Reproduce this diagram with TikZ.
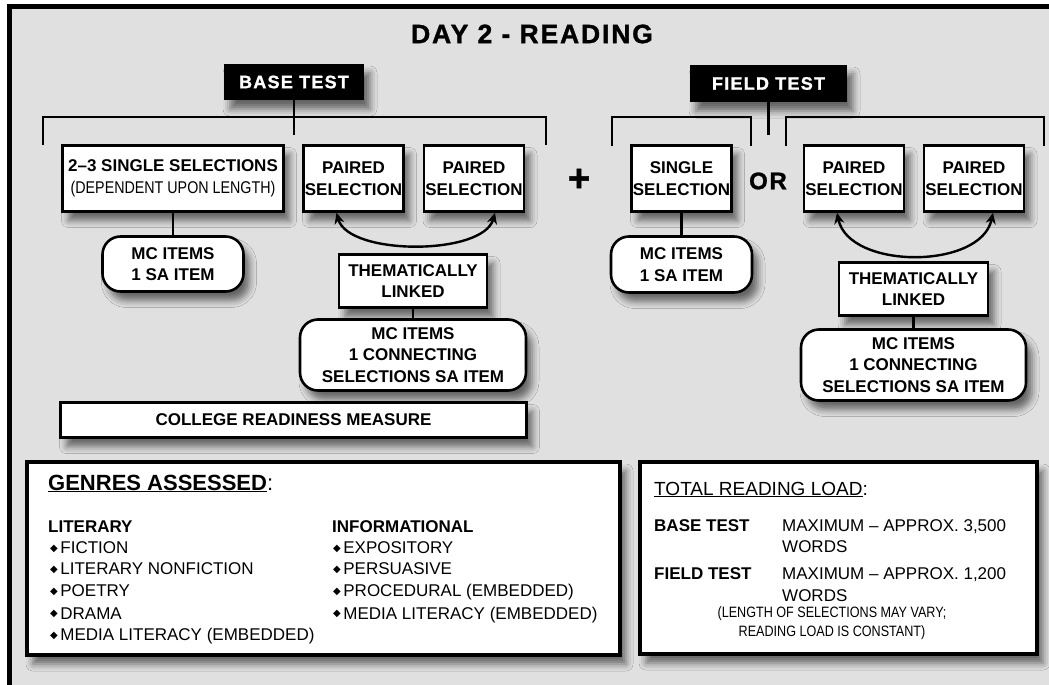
\documentclass[tikz,border=0pt]{standalone}
\usepackage{fontspec}
\setmainfont{Liberation Sans}
\newfontfamily\narrowfont[FakeStretch=0.84]{Liberation Sans}
\newfontfamily\heavyfont[FakeBold=1.3,LetterSpace=7]{Liberation Sans Bold}
\newfontfamily\symbfont{DejaVu Sans}
\usetikzlibrary{arrows.meta,shadows.blur}

\definecolor{bggray}{HTML}{E0E0E0}
\newcommand{\bul}{{\symbfont\fontsize{10}{10}\selectfont\raisebox{2.5pt}{◆}}\hspace{2.5pt}}

\tikzset{
  shade/.style={blur shadow={shadow xshift=6pt,shadow yshift=-9pt,shadow blur radius=7pt,shadow opacity=55}},
  selbox/.style={draw,line width=2.6pt,fill=white,shade,inner sep=0pt,align=center,
    font=\fontsize{17}{21.5}\selectfont\bfseries},
  itembox/.style={selbox,rounded corners=18pt},
  testbox/.style={fill=black,text=white,shade,inner sep=0pt,font=\heavyfont\fontsize{18}{20}\selectfont},
  bigbox/.style={draw,line width=3.5pt,fill=white,shade},
  brace/.style={line width=2.6pt},
  pairarrow/.style={line width=2.4pt,{Stealth[length=11pt,width=10pt]}-{Stealth[length=11pt,width=10pt]}},
  listitem/.style={anchor=base west,inner sep=0pt,font=\fontsize{17}{20}\selectfont},
  listbold/.style={listitem,font=\fontsize{17}{20}\selectfont\bfseries},
  note/.style={anchor=base,inner sep=0pt,font=\narrowfont\fontsize{15}{17}\selectfont},
}

\begin{document}
\begin{tikzpicture}[x=1pt,y=-1pt]
\useasboundingbox (0,0) rectangle (1049,685);

%% Background and frame
\fill[bggray] (9.5,6.5) rectangle (1049,685);
\draw[line width=5pt] (9.5,685) -- (9.5,6.5) -- (1049,6.5);

%% Title
\node[font=\heavyfont\fontsize{26.5}{30}\selectfont] (title) at (532,34) {DAY 2 - READING};

%% Tests
\node[testbox,minimum width=140pt,minimum height=36pt] (base) at (294,82) {BASE TEST};
\node[testbox,minimum width=157pt,minimum height=37pt] (field) at (768.5,83.5) {FIELD TEST};

%% Brackets
\coordinate (bstem) at (294,135);
\draw[brace] (base.south) -- (bstem);
\draw[brace] (43,145) |- (546,117) -- (546,145);
\coordinate (fstem) at (768.5,135);
\draw[brace] (field.south) -- (fstem);
\draw[brace] (612,146) |- (751,117) -- (751,146);
\draw[brace] (786,146) |- (1044,117) -- (1044,146);

%% Selections
\node[selbox,minimum width=221pt,minimum height=66pt] (single) at (173,178.5)
  {2--3 SINGLE SELECTIONS\\{\narrowfont\mdseries (DEPENDENT UPON LENGTH)}};
\node[selbox,minimum width=100pt,minimum height=66pt] (pairA) at (353.5,178.5) {PAIRED\\SELECTION};
\node[selbox,minimum width=100pt,minimum height=66pt] (pairB) at (474,178.5) {PAIRED\\SELECTION};
\node[font=\heavyfont\fontsize{38}{38}\selectfont] (plus) at (579,180) {+};
\node[selbox,minimum width=100pt,minimum height=66pt] (fsingle) at (681.5,178.5) {SINGLE\\SELECTION};
\node[font=\heavyfont\fontsize{24}{24}\selectfont] (or) at (768,181) {OR};
\node[selbox,minimum width=100pt,minimum height=66pt] (fpairA) at (854,178.5) {PAIRED\\SELECTION};
\node[selbox,minimum width=100pt,minimum height=66pt] (fpairB) at (974,178.5) {PAIRED\\SELECTION};

%% Items, base test
\node[itembox,minimum width=141pt,minimum height=55pt] (mcA) at (173,264) {MC ITEMS\\1 SA ITEM};
\node[selbox,minimum width=148pt,minimum height=53pt] (themA) at (413,281) {THEMATICALLY\\LINKED};
\node[itembox,minimum width=226pt,minimum height=71pt] (mccA) at (413,355)
  {MC ITEMS\\1 CONNECTING\\SELECTIONS SA ITEM};
\node[selbox,minimum width=466pt,minimum height=35pt] (college) at (293.5,420) {COLLEGE READINESS MEASURE};

%% Items, field test
\node[itembox,minimum width=141pt,minimum height=56pt] (mcB) at (681.5,264.5) {MC ITEMS\\1 SA ITEM};
\node[selbox,minimum width=149pt,minimum height=53pt] (themB) at (913.5,289) {THEMATICALLY\\LINKED};
\node[itembox,minimum width=225pt,minimum height=71pt] (mccB) at (913.5,365)
  {MC ITEMS\\1 CONNECTING\\SELECTIONS SA ITEM};

%% Connectors
\draw[brace] (single) -- (mcA);
\draw[brace] (themA) -- (mccA);
\draw[brace] (fsingle) -- (mcB);
\draw[brace] (themB) -- (mccB);
\draw[pairarrow] ([xshift=-17pt]pairA.south) .. controls +(12,43) and +(-12,43) .. ([xshift=21pt]pairB.south);
\draw[pairarrow] ([xshift=-17pt]fpairA.south) .. controls +(12,57) and +(-12,57) .. ([xshift=19pt]fpairB.south);

%% Genres
\node[bigbox,minimum width=593pt,minimum height=193pt] (genres) at (323.5,558.5) {};
\node[listitem,font=\fontsize{22}{26}\selectfont] (genhead) at (48,490) {\underline{\bfseries GENRES ASSESSED}:};
\node[listbold] (lit) at (48,532) {LITERARY};
\node[listitem] (lit1) at (50,553.5) {\bul FICTION};
\node[listitem] (lit2) at (50,574.5) {\bul LITERARY NONFICTION};
\node[listitem] (lit3) at (50,596.5) {\bul POETRY};
\node[listitem] (lit4) at (50,619) {\bul DRAMA};
\node[listitem] (lit5) at (50,640.5) {\bul MEDIA LITERACY (EMBEDDED)};
\node[listbold] (inf) at (332,532) {INFORMATIONAL};
\node[listitem] (inf1) at (333,553.5) {\bul EXPOSITORY};
\node[listitem] (inf2) at (333,574.5) {\bul PERSUASIVE};
\node[listitem] (inf3) at (333,596.5) {\bul PROCEDURAL (EMBEDDED)};
\node[listitem] (inf4) at (333,619) {\bul MEDIA LITERACY (EMBEDDED)};

%% Reading load
\node[bigbox,minimum width=397pt,minimum height=192pt] (load) at (838.5,558) {};
\node[listitem,font=\fontsize{19}{22}\selectfont] (loadhead) at (654,495) {\underline{TOTAL READING LOAD}:};
\node[listbold] (lbase) at (654,531) {BASE TEST};
\node[listitem] (lbasemax) at (782,531) {MAXIMUM -- APPROX. 3,500};
\node[listitem] (lbasew) at (782,552) {WORDS};
\node[listbold] (lfield) at (654,579) {FIELD TEST};
\node[listitem] (lfieldmax) at (782,579) {MAXIMUM -- APPROX. 1,200};
\node[listitem] (lfieldw) at (782,601) {WORDS};
\node[note] (note1) at (832,617) {(LENGTH OF SELECTIONS MAY VARY;};
\node[note] (note2) at (832,636) {READING LOAD IS CONSTANT)};

\end{tikzpicture}
\end{document}
